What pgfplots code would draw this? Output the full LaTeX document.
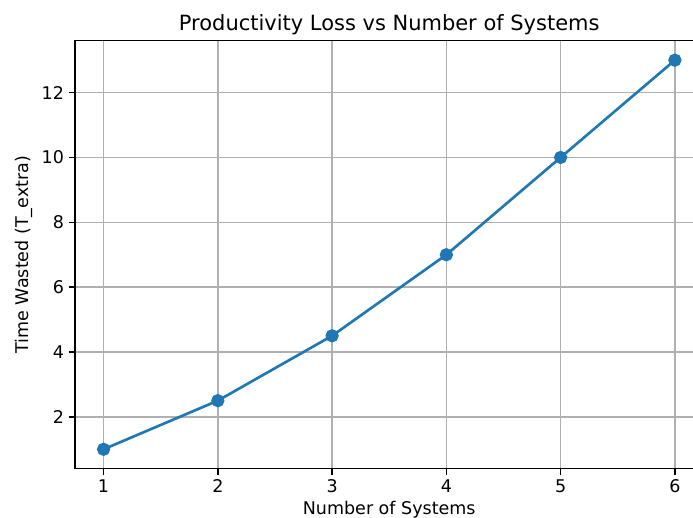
\documentclass[border=0pt]{standalone}
\usepackage{pgfplots}
\pgfplotsset{compat=1.18}
\usepackage{fontspec}
\setmainfont{DejaVu Sans}
\definecolor{c0}{HTML}{1F77B4}
\begin{document}
\begin{tikzpicture}
\begin{axis}[
  scale only axis,
  width=452.5pt, height=308.2pt,
  xmin=0.75, xmax=6.25, ymin=0.4, ymax=13.6,
  xtick={1,2,3,4,5,6}, ytick={2,4,6,8,10,12},
  grid=major,
  grid style={color=black!31, line width=1pt},
  axis line style={line width=1pt},
  tick style={black, line width=1pt},
  tick align=outside, tickpos=left,
  major tick length=4.4pt,
  /pgf/number format/assume math mode=true,
  ticklabel style={font=\fontsize{12.6}{14}\selectfont},
  label style={font=\fontsize{12.6}{14}\selectfont},
  title style={font=\fontsize{15.1}{17}\selectfont, yshift=-5pt},
  title={Productivity Loss vs Number of Systems},
  xlabel={Number of Systems},
  ylabel={Time Wasted (T\_extra)},
  xlabel style={yshift=1pt},
  ylabel style={yshift=0pt},
]
\coordinate (O) at (rel axis cs:0,0);
\addplot[color=c0, line width=1.9pt, mark=*, mark size=3.8pt, mark options={fill=c0, draw=c0}] coordinates {
  (1,1) (2,2.5) (3,4.5) (4,7) (5,10) (6,13)
};
\end{axis}
\pgfresetboundingbox
\path[use as bounding box] ([shift={(-54pt,-35.4pt)}]O) rectangle ([shift={(444.96pt,337.5pt)}]O);
\end{tikzpicture}
\end{document}
